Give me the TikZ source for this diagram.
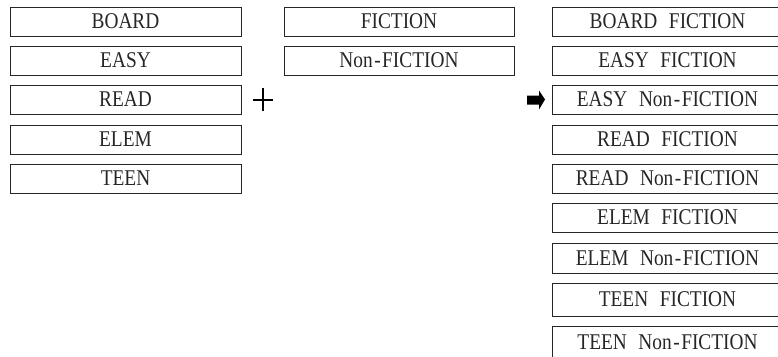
\documentclass[tikz,border=0pt]{standalone}
\usepackage{fontspec}
\setmainfont{Liberation Serif}[FakeStretch=0.86,WordSpace=2.4]
\newcommand{\hy}{\kern1.5pt-\kern1.5pt}
\begin{document}
\begin{tikzpicture}[x=1pt,y=-1pt,
  cat/.style={draw=black!85,text=black!85,line width=0.9pt,inner sep=0pt,font=\fontsize{22.5}{24}\selectfont},
  sym/.style={line width=1.8pt,black}]
\useasboundingbox (0,0) rectangle (778,356);
\clip (0,0) rectangle (778,356);
% left column
\foreach \t/\n/\a/\b in {BOARD/l1/7/36, EASY/l2/46/75, READ/l3/85/114, ELEM/l4/125/154, TEEN/l5/164/193}{
  \node[cat,minimum width=231pt,minimum height={\b-\a},anchor=center] (\n) at (125.5,{(\a+\b)/2}) {\t};
}
% middle column
\foreach \t/\n/\a/\b in {FICTION/m1/7/36, Non\hy FICTION/m2/46/75}{
  \node[cat,minimum width=230pt,minimum height={\b-\a},anchor=center] (\n) at (399,{(\a+\b)/2}) {\t};
}
% right column
\foreach \t/\n/\a/\b in {BOARD FICTION/r1/7/36, EASY FICTION/r2/46/75, EASY Non\hy FICTION/r3/85/114,
  READ FICTION/r4/125/154, READ Non\hy FICTION/r5/164/193, ELEM FICTION/r6/203/232,
  ELEM Non\hy FICTION/r7/243/273, TEEN FICTION/r8/283/316, TEEN Non\hy FICTION/r9/326/358}{
  \node[cat,minimum width=231pt,minimum height={\b-\a},anchor=center] (\n) at (667.5,{(\a+\b)/2}) {\t};
}
% plus sign
\coordinate (plus) at (263,100);
\draw[sym] ([xshift=-10pt]plus) -- ([xshift=10pt]plus);
\draw[sym] ([yshift=-11pt]plus) -- ([yshift=12pt]plus);
% arrow
\coordinate (arr) at (527,99.5);
\fill[black] (arr) ++(0,-4) -- ++(12,0) -- ++(0,-5) -- ++(6,9) -- ++(-6,10) -- ++(0,-5) -- ++(-12,0) -- cycle;
\end{tikzpicture}
\end{document}
